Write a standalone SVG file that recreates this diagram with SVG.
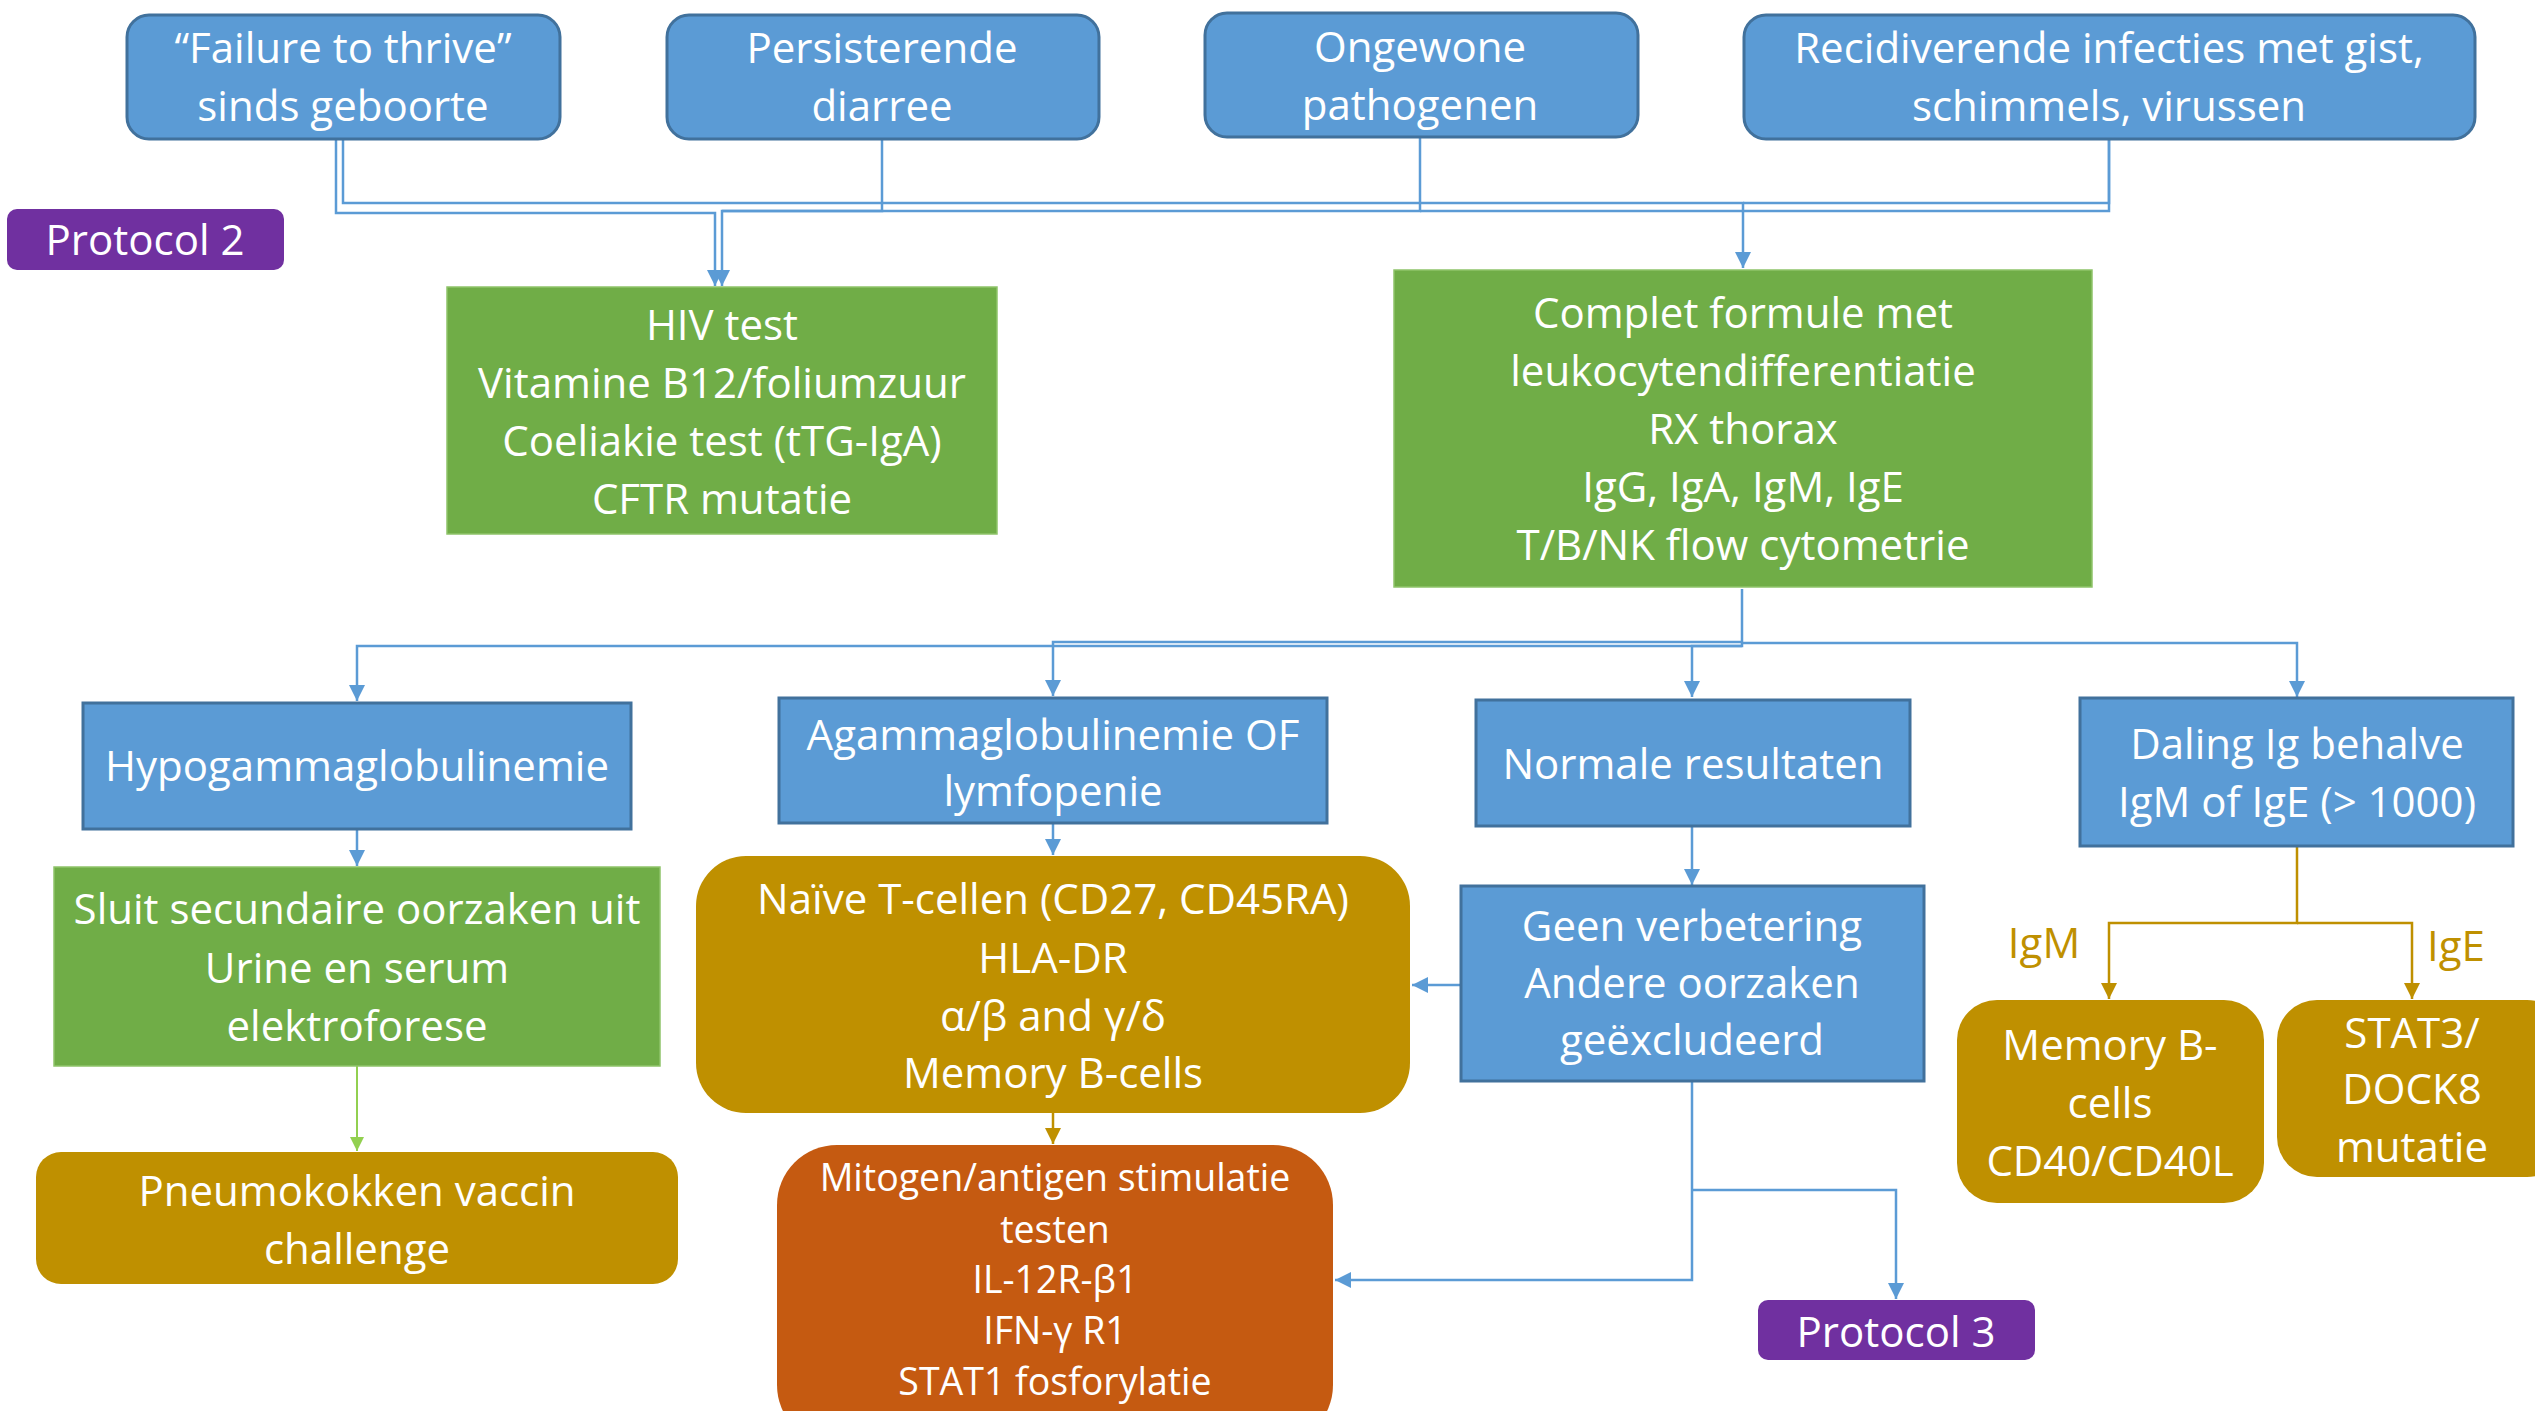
<svg xmlns="http://www.w3.org/2000/svg" width="2535" height="1411" viewBox="0 0 2535 1411">
<style>
text{font-family:"Open Sans",Lato,"Liberation Sans",sans-serif;font-size:42px;fill:#fff;text-anchor:middle}
.blue{fill:#5B9BD5;stroke:#41719C;stroke-width:3}
.green{fill:#70AD47;stroke:#8FC46A;stroke-width:1.5}
.gold{fill:#BF9000}
.orange{fill:#C55A11}
.purple{fill:#7030A0}
.c{fill:none;stroke:#5B9BD5;stroke-width:2.5}
.cg{fill:none;stroke:#92D050;stroke-width:2}
.cy{fill:none;stroke:#BF9000;stroke-width:2.5}
.lbl{fill:#BF9000}
.small{font-size:37.5px}
</style>
<defs>
<marker id="ab" viewBox="0 0 10 10" refX="10" refY="5" markerWidth="6.5" markerHeight="6.5" orient="auto" markerUnits="strokeWidth"><path d="M0,0L10,5L0,10z" fill="#5B9BD5"/></marker>
<marker id="ag" viewBox="0 0 10 10" refX="10" refY="5" markerWidth="7" markerHeight="7" orient="auto" markerUnits="strokeWidth"><path d="M0,0L10,5L0,10z" fill="#92D050"/></marker>
<marker id="ay" viewBox="0 0 10 10" refX="10" refY="5" markerWidth="6.5" markerHeight="6.5" orient="auto" markerUnits="strokeWidth"><path d="M0,0L10,5L0,10z" fill="#BF9000"/></marker>
</defs>
<rect width="2535" height="1411" fill="#fff"/>
<g id="connectors">
<path class="c" d="M343,139V203H1743V268" marker-end="url(#ab)"/>
<path class="c" d="M2109,139V203H1743"/>
<path class="c" d="M336,139V213H715V286" marker-end="url(#ab)"/>
<path class="c" d="M882,139V211H722V286" marker-end="url(#ab)"/>
<path class="c" d="M1420,137V211H722"/>
<path class="c" d="M2109,139V211H1420"/>
<path class="c" d="M1742,589V646H357V701" marker-end="url(#ab)"/>
<path class="c" d="M1742,642H1053V696" marker-end="url(#ab)"/>
<path class="c" d="M1742,646H1692V697" marker-end="url(#ab)"/>
<path class="c" d="M1742,643H2297V697" marker-end="url(#ab)"/>
<path class="c" d="M357,829V866" marker-end="url(#ab)"/>
<path class="c" d="M1053,823V855" marker-end="url(#ab)"/>
<path class="c" d="M1692,826V885" marker-end="url(#ab)"/>
<path class="c" d="M1461,985H1412" marker-end="url(#ab)"/>
<path class="c" d="M1692,1081V1280H1335" marker-end="url(#ab)"/>
<path class="c" d="M1692,1190H1896V1299" marker-end="url(#ab)"/>
<path class="cg" d="M357,1066V1151" marker-end="url(#ag)"/>
<path class="cy" d="M1053,1113V1144" marker-end="url(#ay)"/>
<path class="cy" d="M2297,846V923H2109V999" marker-end="url(#ay)"/>
<path class="cy" d="M2297,923H2412V999" marker-end="url(#ay)"/>
</g>
<g id="n-ftt"><rect class="blue" x="127" y="15" width="433" height="124" rx="22"/><text x="343" y="63">“Failure to thrive”</text><text x="343" y="121">sinds geboorte</text></g>
<g id="n-diarree"><rect class="blue" x="667" y="15" width="432" height="124" rx="22"/><text x="882" y="63">Persisterende</text><text x="882" y="121">diarree</text></g>
<g id="n-pathogenen"><rect class="blue" x="1205" y="13" width="433" height="124" rx="22"/><text x="1420" y="62">Ongewone</text><text x="1420" y="120">pathogenen</text></g>
<g id="n-infecties"><rect class="blue" x="1744" y="15" width="731" height="124" rx="22"/><text x="2109" y="63">Recidiverende infecties met gist,</text><text x="2109" y="121">schimmels, virussen</text></g>
<g id="n-protocol2"><rect class="purple" x="7" y="209" width="277" height="61" rx="10"/><text x="145" y="255">Protocol 2</text></g>
<g id="n-hiv"><rect class="green" x="447" y="287" width="550" height="247"/><text x="722" y="340">HIV test</text><text x="722" y="398">Vitamine B12/foliumzuur</text><text x="722" y="456">Coeliakie test (tTG-IgA)</text><text x="722" y="514">CFTR mutatie</text></g>
<g id="n-complet"><rect class="green" x="1394" y="270" width="698" height="317"/><text x="1743" y="328">Complet formule met</text><text x="1743" y="386">leukocytendifferentiatie</text><text x="1743" y="444">RX thorax</text><text x="1743" y="502">IgG, IgA, IgM, IgE</text><text x="1743" y="560">T/B/NK flow cytometrie</text></g>
<g id="n-hypo"><rect class="blue" x="83" y="703" width="548" height="126"/><text x="357" y="781">Hypogammaglobulinemie</text></g>
<g id="n-agamma"><rect class="blue" x="779" y="698" width="548" height="125"/><text x="1053" y="750">Agammaglobulinemie OF</text><text x="1053" y="806">lymfopenie</text></g>
<g id="n-normaal"><rect class="blue" x="1476" y="700" width="434" height="126"/><text x="1693" y="779">Normale resultaten</text></g>
<g id="n-daling"><rect class="blue" x="2080" y="698" width="433" height="148"/><text x="2297" y="759">Daling Ig behalve</text><text x="2297" y="817">IgM of IgE (&gt; 1000)</text></g>
<g id="n-sluit"><rect class="green" x="54" y="867" width="606" height="199"/><text x="357" y="924">Sluit secundaire oorzaken uit</text><text x="357" y="983">Urine en serum</text><text x="357" y="1041">elektroforese</text></g>
<g id="n-pneumo"><rect class="gold" x="36" y="1152" width="642" height="132" rx="25"/><text x="357" y="1206">Pneumokokken vaccin</text><text x="357" y="1264">challenge</text></g>
<g id="n-naive"><rect class="gold" x="696" y="856" width="714" height="257" rx="50"/><text x="1053" y="914">Naïve T-cellen (CD27, CD45RA)</text><text x="1053" y="973">HLA-DR</text><text x="1053" y="1031">α/β and γ/δ</text><text x="1053" y="1088">Memory B-cells</text></g>
<g id="n-mitogen"><rect class="orange" x="777" y="1145" width="556" height="300" rx="60"/><text class="small" x="1055" y="1191">Mitogen/antigen stimulatie</text><text class="small" x="1055" y="1243">testen</text><text class="small" x="1055" y="1293">IL-12R-β1</text><text class="small" x="1055" y="1344">IFN-γ R1</text><text class="small" x="1055" y="1395">STAT1 fosforylatie</text></g>
<g id="n-geen"><rect class="blue" x="1461" y="886" width="463" height="195"/><text x="1692" y="941">Geen verbetering</text><text x="1692" y="998">Andere oorzaken</text><text x="1692" y="1055">geëxcludeerd</text></g>
<g id="n-protocol3"><rect class="purple" x="1758" y="1300" width="277" height="60" rx="10"/><text x="1896" y="1347">Protocol 3</text></g>
<g id="n-memory"><rect class="gold" x="1957" y="1000" width="307" height="203" rx="40"/><text x="2110" y="1060">Memory B-</text><text x="2110" y="1118">cells</text><text x="2110" y="1176">CD40/CD40L</text></g>
<g id="n-stat3"><rect class="gold" x="2277" y="1000" width="290" height="177" rx="40"/><text x="2412" y="1048">STAT3/</text><text x="2412" y="1104">DOCK8</text><text x="2412" y="1162">mutatie</text></g>
<g id="labels"><text class="lbl" x="2044" y="958">IgM</text><text class="lbl" x="2456" y="961">IgE</text></g>
</svg>
